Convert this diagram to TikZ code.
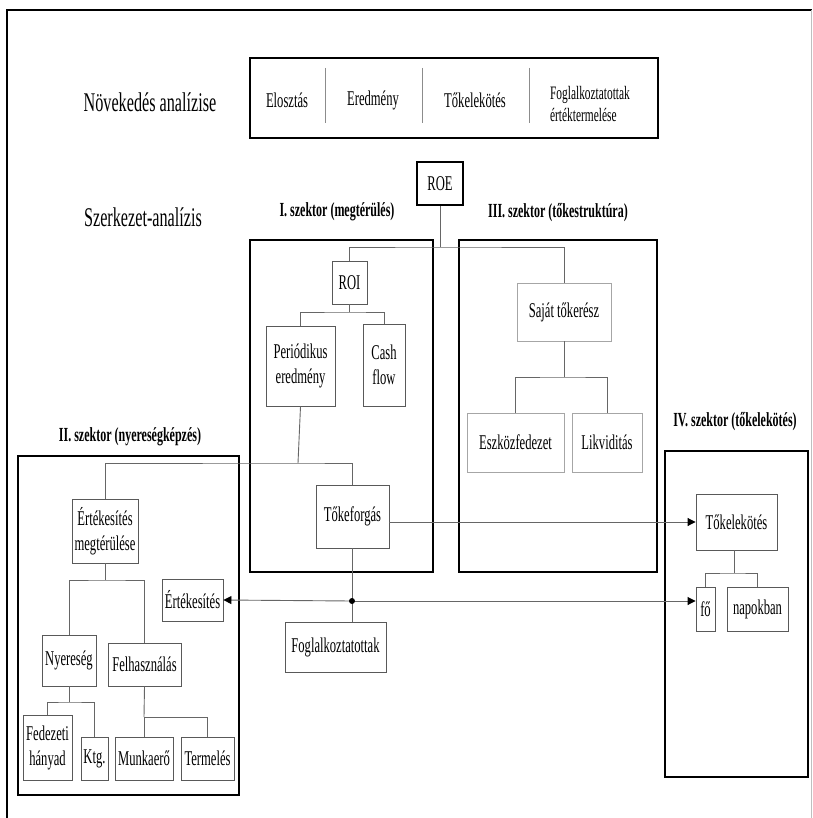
\documentclass[tikz,border=0pt]{standalone}
\usepackage{fontspec}
\setmainfont{Liberation Serif}[FakeStretch=0.6]
\usetikzlibrary{arrows.meta}

\begin{document}
\begin{tikzpicture}[x=1pt,y=-1pt,
		box/.style={draw=black!65,line width=0.9pt,inner sep=0pt,align=center,font=\fontsize{21}{25}\selectfont},
		pale/.style={box,draw=black!35},
		sector/.style={line width=2.6pt},
		conn/.style={draw=black!60,line width=0.9pt},
		tip/.style={-{Triangle[length=8pt,width=8pt,color=black]}},
		title/.style={font=\bfseries\fontsize{20}{24}\selectfont},
		heading/.style={font=\fontsize{27}{32}\selectfont}]
		\useasboundingbox (0,0) rectangle (812,818);
		\draw[line width=2pt] (7,818) -- (7,10) -- (812,10);
		\draw[black!25] (811,10) -- (811,818);

		\node[heading](nov) at (150,102) {Növekedés analízise};
		\node[heading](szerk) at (143,217) {Szerkezet-analízis};

		\draw[sector] (250,58) rectangle (658,138);
		\draw[conn,black!45] (325,68) -- (325,123);
		\draw[conn,black!45] (422,68) -- (422,123);
		\draw[conn,black!45] (529,68) -- (529,123);
		\node[font=\fontsize{21}{25}\selectfont](eloszt) at (287,100) {Elosztás};
		\node[font=\fontsize{21}{25}\selectfont](eredm) at (373,100) {Eredmény};
		\node[font=\fontsize{21}{25}\selectfont](lekot) at (475,100) {Tőkelekötés};
		\node[font=\fontsize{19}{22}\selectfont,align=left](foglert) at (590,104) {Foglalkoztatottak\\értéktermelése};

		\draw[sector] (250,240) rectangle (433,572);
		\draw[sector] (459,240) rectangle (657,572);
		\draw[sector] (18,456) rectangle (239,795);
		\draw[sector] (665,451) rectangle (808,777);
		\node[title](t1) at (337,212) {I. szektor (megtérülés)};
		\node[title](t3) at (558,213) {III. szektor (tőkestruktúra)};
		\node[title](t2) at (130,437) {II. szektor (nyereségképzés)};
		\node[title](t4) at (735,422) {IV. szektor (tőkelekötés)};

		\node[box,draw=black,line width=2.2pt,minimum width=46pt,minimum height=43pt](roe) at (440,183.5) {ROE};
		\node[box,minimum width=35pt,minimum height=43pt](roi) at (349.5,282.5) {ROI};
		\node[box,minimum width=69pt,minimum height=80pt](per) at (300.5,366) {Periódikus\\eredmény};
		\node[box,minimum width=42pt,minimum height=82pt](cash) at (384,365) {Cash\\flow};
		\node[pale,minimum width=94pt,minimum height=58pt](sajat) at (564,312) {Saját tőkerész};
		\node[pale,minimum width=97pt,minimum height=59pt](eszk) at (515.5,442.5) {Eszközfedezet};
		\node[pale,minimum width=70pt,minimum height=59pt](likv) at (607,442.5) {Likviditás};
		\node[box,minimum width=73pt,minimum height=63pt](tokef) at (352.5,516.5) {Tőkeforgás};
		\node[box,minimum width=101pt,minimum height=50pt](fogl) at (335.5,647) {Foglalkoztatottak};

		\node[box,minimum width=66pt,minimum height=64pt](ertm) at (105,531) {Értékesítés\\megtérülése};
		\node[box,minimum width=61pt,minimum height=42pt](ertek) at (192.5,600) {Értékesítés};
		\node[box,minimum width=54pt,minimum height=51pt](nyer) at (69,660.5) {Nyereség};
		\node[box,minimum width=73pt,minimum height=43pt](felh) at (144.5,664.5) {Felhasználás};
		\node[box,minimum width=49pt,minimum height=65pt](fed) at (47.5,747.5) {Fedezeti\\hányad};
		\node[box,minimum width=27pt,minimum height=43pt](ktg) at (94.5,758.5) {Ktg.};
		\node[box,minimum width=58pt,minimum height=43pt](munk) at (144,758.5) {Munkaerő};
		\node[box,minimum width=53pt,minimum height=43pt](term) at (207.5,758.5) {Termelés};

		\node[box,minimum width=81pt,minimum height=56pt](tokelek) at (736.5,522) {Tőkelekötés};
		\node[box,minimum width=19pt,minimum height=44pt](fo) at (705.5,609) {fő};
		\node[box,minimum width=61pt,minimum height=44pt](napok) at (757.5,609) {napokban};

		\coordinate (j0) at (440,247);
		\coordinate (j1) at (298,463);
		\coordinate (j2) at (348,312);
		\coordinate (j3) at (564,377);
		\coordinate (j4) at (107,580);
		\coordinate (j5) at (69,702);
		\coordinate (j6) at (144,717);
		\coordinate (j7) at (734,573);
		\coordinate (dot) at (352,601);

		\draw[conn] (roe.south) -- (j0);
		\draw[conn] (roi.north) |- (j0) -| (sajat.north);
		\draw[conn] (roi.south) -- (roi.south |- j2);
		\draw[conn] (per.north) |- (j2) -| (cash.north);
		\draw[conn] (sajat.south) -- (j3);
		\draw[conn] (eszk.north) |- (j3) -| (likv.north);
		\draw[conn] (per.south) -- (j1);
		\draw[conn] (ertm.north) |- (j1) -| (tokef.north);
		\draw[conn] (ertm.south) -- (ertm.south |- j4);
		\draw[conn] (nyer.north) |- (j4) -| (felh.north);
		\draw[conn] (nyer.south) -- (j5);
		\draw[conn] (fed.north) |- (j5) -| (ktg.north);
		\draw[conn] (felh.south) -- (j6);
		\draw[conn] (munk.north) |- (j6) -| (term.north);
		\draw[conn] (tokelek.south -| j7) -- (j7);
		\draw[conn] (fo.north) |- (j7) -| (napok.north);
		\draw[conn] (tokef.south) -- (tokef.south |- fogl.north);
		\draw[conn,tip] (tokelek.west -| tokef.east) -- (tokelek.west);
		\draw[conn,tip] (dot) -- (ertek.east);
		\draw[conn,tip] (dot) -- (fo.west |- dot);
		\fill (dot) circle (3pt);
	\end{tikzpicture}
\end{document}
